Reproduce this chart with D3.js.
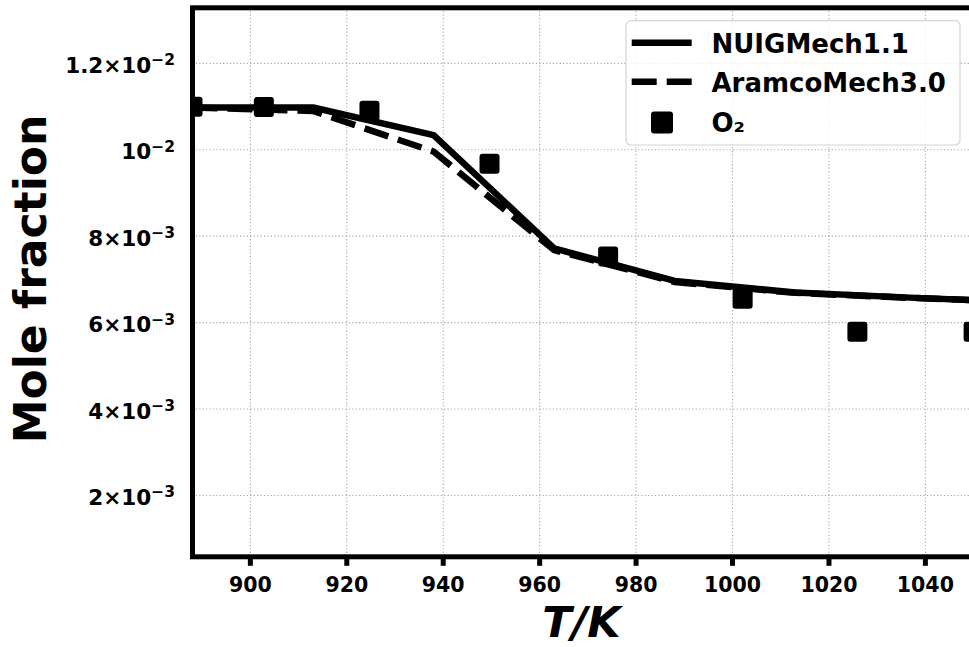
<!DOCTYPE html>
<html>
<head>
<meta charset="utf-8">
<script src="https://cdn.jsdelivr.net/npm/d3@7"></script>
<style>
  html, body { margin: 0; padding: 0; background: #fff; }
  svg { display: block; font-family: "DejaVu Sans", sans-serif; font-weight: bold; }
</style>
</head>
<body>
<svg id="chart" width="969" height="647"></svg>
<script>
// Simulated O2 mole fraction profiles (25 K grid) and measured O2 points
const simTemps = [888, 913, 938, 963, 988, 1013, 1038, 1050];
const nuigO2 = [0.010977, 0.010977, 0.010340, 0.007718, 0.006965, 0.006694, 0.006572, 0.006521];
const aramcoO2 = [0.010977, 0.010896, 0.009958, 0.007678, 0.006940, 0.006688, 0.006567, 0.006521];

const expTemps = [888, 902.8, 924.7, 949.6, 974.2, 1002.1, 1025.9, 1050];
const expO2 = [0.010995, 0.010988, 0.010903, 0.009674, 0.007532, 0.006551, 0.005787, 0.005787];

const tempTicks = [900, 920, 940, 960, 980, 1000, 1020, 1040];
const fracTicks = [0.002, 0.004, 0.006, 0.008, 0.010, 0.012];
// [mantissa, exponent] for each mole-fraction tick label
const fracTickLabels = [["2", "−3"], ["4", "−3"], ["6", "−3"], ["8", "−3"], ["", "−2"], ["1.2", "−2"]];

const seriesNames = ["NUIGMech1.1", "AramcoMech3.0", "O₂"];

const svg = d3.select("#chart");
const plot = { left: 192.5, right: 976.5, top: 7.8, bottom: 556.8 };

const x = d3.scaleLinear().domain([888, 1050.6]).range([plot.left, plot.right]);
const y = d3.scaleLinear().domain([0.00058, 0.013285]).range([plot.bottom, plot.top]);

svg.append("rect").attr("width", 969).attr("height", 647).attr("fill", "#fff");

svg.append("defs").append("clipPath").attr("id", "plot-clip")
  .append("rect")
  .attr("x", plot.left).attr("y", plot.top)
  .attr("width", plot.right - plot.left).attr("height", plot.bottom - plot.top);

// Dotted grid
const grid = svg.append("g")
  .attr("stroke", "#a8a8a8").attr("stroke-width", 1.1).attr("stroke-dasharray", "1.2,2.2");
grid.selectAll("line.vx").data(tempTicks).join("line")
  .attr("x1", d => x(d)).attr("x2", d => x(d))
  .attr("y1", plot.top).attr("y2", plot.bottom);
grid.selectAll("line.hy").data(fracTicks).join("line")
  .attr("x1", plot.left).attr("x2", plot.right)
  .attr("y1", d => y(d)).attr("y2", d => y(d));

// Simulation curves and measurements
const data = svg.append("g").attr("clip-path", "url(#plot-clip)");
const line = d3.line().x(d => x(d[0])).y(d => y(d[1]));

data.append("path")
  .datum(d3.zip(simTemps, aramcoO2))
  .attr("d", line)
  .attr("fill", "none").attr("stroke", "#000").attr("stroke-width", 6.5)
  .attr("stroke-dasharray", "25,10");

data.append("path")
  .datum(d3.zip(simTemps, nuigO2))
  .attr("d", line)
  .attr("fill", "none").attr("stroke", "#000").attr("stroke-width", 6.5)
  .attr("stroke-linejoin", "round");

const ms = 20;
data.selectAll("rect.pt").data(d3.zip(expTemps, expO2)).join("rect")
  .attr("x", d => x(d[0]) - ms / 2).attr("y", d => y(d[1]) - ms / 2)
  .attr("width", ms).attr("height", ms).attr("rx", 3)
  .attr("fill", "#000");

// Spines
svg.append("rect")
  .attr("x", plot.left).attr("y", plot.top)
  .attr("width", plot.right - plot.left).attr("height", plot.bottom - plot.top)
  .attr("fill", "none").attr("stroke", "#000").attr("stroke-width", 5);

// X axis ticks and labels
const xAxis = svg.append("g");
xAxis.selectAll("line").data(tempTicks).join("line")
  .attr("x1", d => x(d)).attr("x2", d => x(d))
  .attr("y1", plot.bottom).attr("y2", plot.bottom + 9)
  .attr("stroke", "#000").attr("stroke-width", 5);
xAxis.selectAll("text").data(tempTicks).join("text")
  .attr("x", d => x(d)).attr("y", 591.5)
  .attr("text-anchor", "middle").attr("font-size", 20.5)
  .text(d => d);

// Y tick labels in mantissa×10^exponent form
const yLabels = svg.append("g").attr("font-size", 21.5);
fracTicks.forEach((v, i) => {
  const [mant, expo] = fracTickLabels[i];
  const t = yLabels.append("text")
    .attr("x", 175).attr("y", y(v) + 9.5)
    .attr("text-anchor", "end");
  t.append("tspan").text((mant ? mant + "×" : "") + "10");
  t.append("tspan").attr("font-size", 15.5).attr("dy", -7.5).text(expo);
});

// Axis titles
svg.append("text")
  .attr("transform", "translate(46,279) rotate(-90)")
  .attr("text-anchor", "middle").attr("font-size", 44)
  .text("Mole fraction");

svg.append("text")
  .attr("x", 581.5).attr("y", 636.5)
  .attr("text-anchor", "middle").attr("font-size", 43).attr("font-style", "italic")
  .text("T/K");

// Legend
const legend = svg.append("g");
legend.append("rect")
  .attr("x", 626).attr("y", 20.7).attr("width", 334).attr("height", 124.3).attr("rx", 5)
  .attr("fill", "#fff").attr("fill-opacity", 0.8)
  .attr("stroke", "#d4d4d4").attr("stroke-width", 1.2);

const rowY = [42.7, 81.7, 122.5];
legend.append("line")
  .attr("x1", 631.7).attr("x2", 691.7).attr("y1", rowY[0]).attr("y2", rowY[0])
  .attr("stroke", "#000").attr("stroke-width", 6.5);
legend.append("line")
  .attr("x1", 631.7).attr("x2", 691.7).attr("y1", rowY[1]).attr("y2", rowY[1])
  .attr("stroke", "#000").attr("stroke-width", 6.5).attr("stroke-dasharray", "25,10");
legend.append("rect")
  .attr("x", 662 - 11).attr("y", rowY[2] - 11).attr("width", 22).attr("height", 22).attr("rx", 3)
  .attr("fill", "#000");

legend.selectAll("text.lg").data(seriesNames).join("text")
  .attr("x", 711.5).attr("y", (d, i) => rowY[i] + 9.8)
  .attr("font-size", 26)
  .text(d => d);
</script>
</body>
</html>
